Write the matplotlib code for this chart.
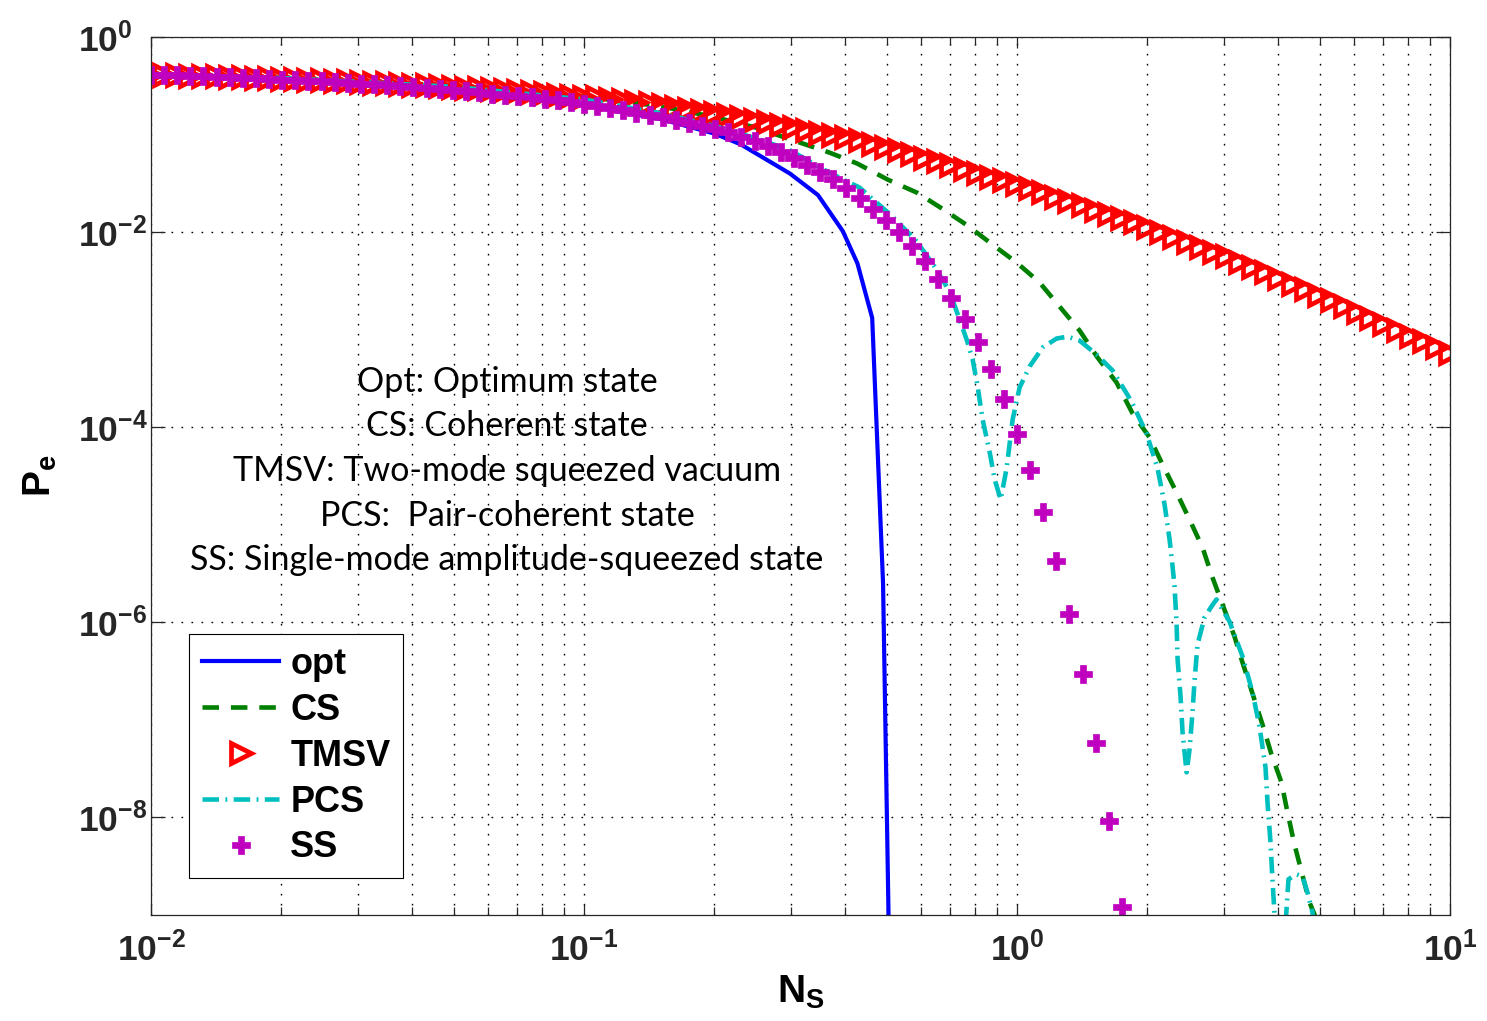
import matplotlib
matplotlib.use('Agg')
import matplotlib.pyplot as plt
import numpy as np
from matplotlib.ticker import LogLocator, NullLocator, NullFormatter

# Fonts: bold helvetica-like for axes, humanist sans for the note block
plt.rcParams['font.family'] = 'Liberation Sans'
plt.rcParams['mathtext.fontset'] = 'custom'
plt.rcParams['mathtext.rm'] = 'Liberation Sans'
plt.rcParams['mathtext.bf'] = 'Liberation Sans:bold'
plt.rcParams['mathtext.it'] = 'Liberation Sans:italic'

# N_S sampling of the marker curves (100 log-spaced points, 1e-2 .. 1e1)
NS_GRID = np.logspace(-2, 1, 100)

# log10(Pe)
TMSV_LOG = [-0.39, -0.39, -0.39, -0.40, -0.40, -0.40, -0.41, -0.41, -0.42, -0.42,
            -0.43, -0.43, -0.44, -0.44, -0.45, -0.45, -0.46, -0.47, -0.47, -0.48,
            -0.49, -0.49, -0.50, -0.51, -0.52, -0.52, -0.53, -0.54, -0.55, -0.56,
            -0.57, -0.59, -0.60, -0.61, -0.62, -0.64, -0.65, -0.67, -0.68, -0.70,
            -0.72, -0.74, -0.76, -0.78, -0.80, -0.82, -0.85, -0.87, -0.90, -0.92,
            -0.95, -0.98, -1.00, -1.03, -1.06, -1.10, -1.13, -1.16, -1.20, -1.24,
            -1.27, -1.31, -1.35, -1.39, -1.43, -1.47, -1.51, -1.55, -1.59, -1.64,
            -1.68, -1.72, -1.77, -1.81, -1.86, -1.90, -1.95, -2.00, -2.05, -2.10,
            -2.15, -2.20, -2.25, -2.31, -2.36, -2.41, -2.47, -2.53, -2.58, -2.64,
            -2.70, -2.76, -2.82, -2.88, -2.94, -3.00, -3.06, -3.12, -3.18, -3.24]

SS_LOG = [-0.39, -0.39, -0.39, -0.40, -0.40, -0.41, -0.41, -0.42, -0.42, -0.43,
          -0.44, -0.44, -0.45, -0.45, -0.46, -0.47, -0.48, -0.48, -0.49, -0.50,
          -0.51, -0.52, -0.53, -0.54, -0.55, -0.56, -0.58, -0.59, -0.60, -0.62,
          -0.64, -0.65, -0.67, -0.69, -0.71, -0.73, -0.75, -0.78, -0.80, -0.82,
          -0.85, -0.88, -0.91, -0.94, -0.97, -1.02, -1.07, -1.12, -1.18, -1.24,
          -1.31, -1.38, -1.46, -1.55, -1.65, -1.76, -1.88, -2.00, -2.14, -2.30,
          -2.48, -2.68, -2.89, -3.13, -3.40, -3.71, -4.07, -4.44, -4.87, -5.37,
          -5.91, -6.53, -7.24, -8.04, -8.92]

OPT_NS = [0.01, 0.02, 0.05, 0.1, 0.15, 0.2, 0.23, 0.26, 0.299, 0.347,
          0.396, 0.428, 0.463, 0.4905, 0.505, 0.508]
OPT_LOG = [-0.39, -0.43, -0.55, -0.70, -0.84, -0.99, -1.10, -1.24, -1.40, -1.62,
           -1.99, -2.32, -2.88, -5.60, -9.00, -10.0]

CS_NS = [0.01, 0.02, 0.05, 0.1, 0.15, 0.2, 0.25, 0.3,
         0.369, 0.427, 0.503, 0.587, 0.666, 0.769, 0.878, 0.998,
         1.128, 1.254, 1.395, 1.535, 1.698, 1.849, 2.024, 2.168,
         2.336, 2.503, 2.682, 2.828, 2.983, 3.179, 3.317, 3.689,
         3.870, 4.081, 4.214, 4.373, 4.539, 4.738, 4.864, 5.0]
CS_LOG = [-0.39, -0.42, -0.50, -0.61, -0.71, -0.82, -0.93, -1.05,
          -1.185, -1.296, -1.462, -1.595, -1.749, -1.933, -2.128, -2.312,
          -2.517, -2.763, -3.009, -3.286, -3.542, -3.859, -4.105, -4.382,
          -4.669, -4.946, -5.233, -5.540, -5.817, -6.145, -6.411, -7.047,
          -7.354, -7.641, -7.948, -8.276, -8.553, -8.871, -8.994, -9.2]

PCS_NS = [0.01, 0.02, 0.05, 0.1, 0.15, 0.2, 0.25, 0.299,
          0.365, 0.433, 0.513, 0.587, 0.645, 0.699, 0.765, 0.790,
          0.811, 0.833, 0.865, 0.888, 0.917, 0.946, 0.977, 1.014,
          1.069, 1.146, 1.234, 1.309, 1.395, 1.527, 1.663, 1.839,
          1.992, 2.112, 2.192, 2.251, 2.287, 2.311, 2.336, 2.349,
          2.386, 2.412, 2.464, 2.503, 2.543, 2.570, 2.612, 2.711,
          2.813, 2.889, 3.096, 3.317, 3.499, 3.631, 3.749, 3.789,
          3.850, 3.890, 3.953, 4.060, 4.193, 4.236, 4.420, 4.563,
          4.686, 4.813, 4.942]
PCS_LOG = [-0.39, -0.42, -0.51, -0.64, -0.78, -0.91, -1.04, -1.16,
           -1.380, -1.544, -1.831, -2.097, -2.353, -2.610, -3.101, -3.306,
           -3.583, -3.921, -4.259, -4.536, -4.741, -4.423, -3.921, -3.593,
           -3.378, -3.183, -3.091, -3.071, -3.112, -3.255, -3.419, -3.737,
           -4.065, -4.423, -4.792, -5.151, -5.427, -5.632, -6.001, -6.380,
           -6.759, -7.128, -7.538, -7.302, -6.923, -6.605, -6.226, -5.950,
           -5.837, -5.765, -5.991, -6.349, -6.718, -7.067, -7.487, -7.845,
           -8.255, -8.634, -9.15, -9.86, -8.94, -8.634, -8.583, -8.604,
           -8.768, -8.973, -9.45]

X_TICKS = [1e-2, 1e-1, 1e0, 1e1]
X_TICK_LABELS = [r'$\mathbf{10^{-2}}$', r'$\mathbf{10^{-1}}$', r'$\mathbf{10^{0}}$', r'$\mathbf{10^{1}}$']
Y_TICKS = [1e0, 1e-2, 1e-4, 1e-6, 1e-8]
Y_TICK_LABELS = [r'$\mathbf{10^{0}}$', r'$\mathbf{10^{-2}}$', r'$\mathbf{10^{-4}}$',
                 r'$\mathbf{10^{-6}}$', r'$\mathbf{10^{-8}}$']

NOTE_LINES = ['Opt: Optimum state',
              'CS: Coherent state',
              'TMSV: Two-mode squeezed vacuum',
              'PCS:  Pair-coherent state',
              'SS: Single-mode amplitude-squeezed state']

fig = plt.figure(figsize=(14.87, 10.21), dpi=100)
ax = fig.add_axes([151 / 1487, 106 / 1021, 1299 / 1487, 878 / 1021])

ax.plot(OPT_NS, 10 ** np.array(OPT_LOG), color='b', lw=3, label='opt')
ax.plot(CS_NS, 10 ** np.array(CS_LOG), color='#008000', lw=3.3,
        dashes=(3.6, 2.6), label='CS')
ax.plot(NS_GRID, 10 ** np.array(TMSV_LOG), ls='none', marker='>', ms=15,
        mfc='none', mec='r', mew=3.4, label='TMSV')
ax.plot(PCS_NS, 10 ** np.array(PCS_LOG), color='#00BFBF', lw=3.3,
        dashes=(3.6, 1.4, 0.4, 1.4), label='PCS')
ax.plot(NS_GRID[:len(SS_LOG)], 10 ** np.array(SS_LOG), ls='none', marker='P',
        ms=12.5, mfc='#BF00BF', mec='#BF00BF', mew=0.5, label='SS')

ax.set_xscale('log')
ax.set_yscale('log')
ax.set_xlim(1e-2, 1e1)
ax.set_ylim(1e-9, 1e0)

ax.set_xticks(X_TICKS)
ax.set_xticklabels(X_TICK_LABELS, fontsize=25.5)
ax.xaxis.set_minor_locator(LogLocator(base=10, subs=np.arange(2, 10)))
ax.xaxis.set_minor_formatter(NullFormatter())
ax.set_yticks(Y_TICKS)
ax.set_yticklabels(Y_TICK_LABELS, fontsize=25.5)
ax.yaxis.set_minor_locator(NullLocator())
# matlab puts the "10" of every y label at the same x
for lbl in ax.get_yticklabels():
    lbl.set_horizontalalignment('left')

ax.tick_params(which='both', direction='in', top=True, right=True, colors='#262626')
ax.tick_params(axis='x', which='major', length=8, width=0.9, pad=12)
ax.tick_params(axis='x', which='minor', length=5.5, width=0.9)
ax.tick_params(axis='y', which='major', length=10, width=0.9, pad=52.5)
for sp in ax.spines.values():
    sp.set_linewidth(0.9)
    sp.set_color('#262626')

grid_style = dict(color='black', lw=1.0, linestyle=(0, (1.2, 6)))
ax.grid(True, which='major', axis='both', **grid_style)
ax.xaxis.grid(True, which='minor', **grid_style)

ax.set_xlabel(r'$\mathbf{N_S}$', fontsize=28, labelpad=4)
ax.set_ylabel(r'$\mathbf{P_e}$', fontsize=28, labelpad=14)

# note block in the middle of the plot
note_y = [0.5957, 0.5450, 0.4943, 0.4436, 0.3929]
for line, y in zip(NOTE_LINES, note_y):
    ax.text(0.2741, y, line, transform=ax.transAxes, ha='center', va='baseline',
            fontsize=24.5, family='Lato', color='black')

leg = ax.legend(loc='lower left', bbox_to_anchor=(0.0293, 0.0421), borderaxespad=0,
                prop={'family': 'Liberation Sans', 'weight': 'bold', 'size': 26},
                numpoints=1, handlelength=2.15, handletextpad=0.3, labelspacing=0.3,
                borderpad=0.35, fancybox=False, framealpha=1, edgecolor='black')
leg.get_frame().set_linewidth(0.8)

fig.savefig('out.png', dpi=100)
